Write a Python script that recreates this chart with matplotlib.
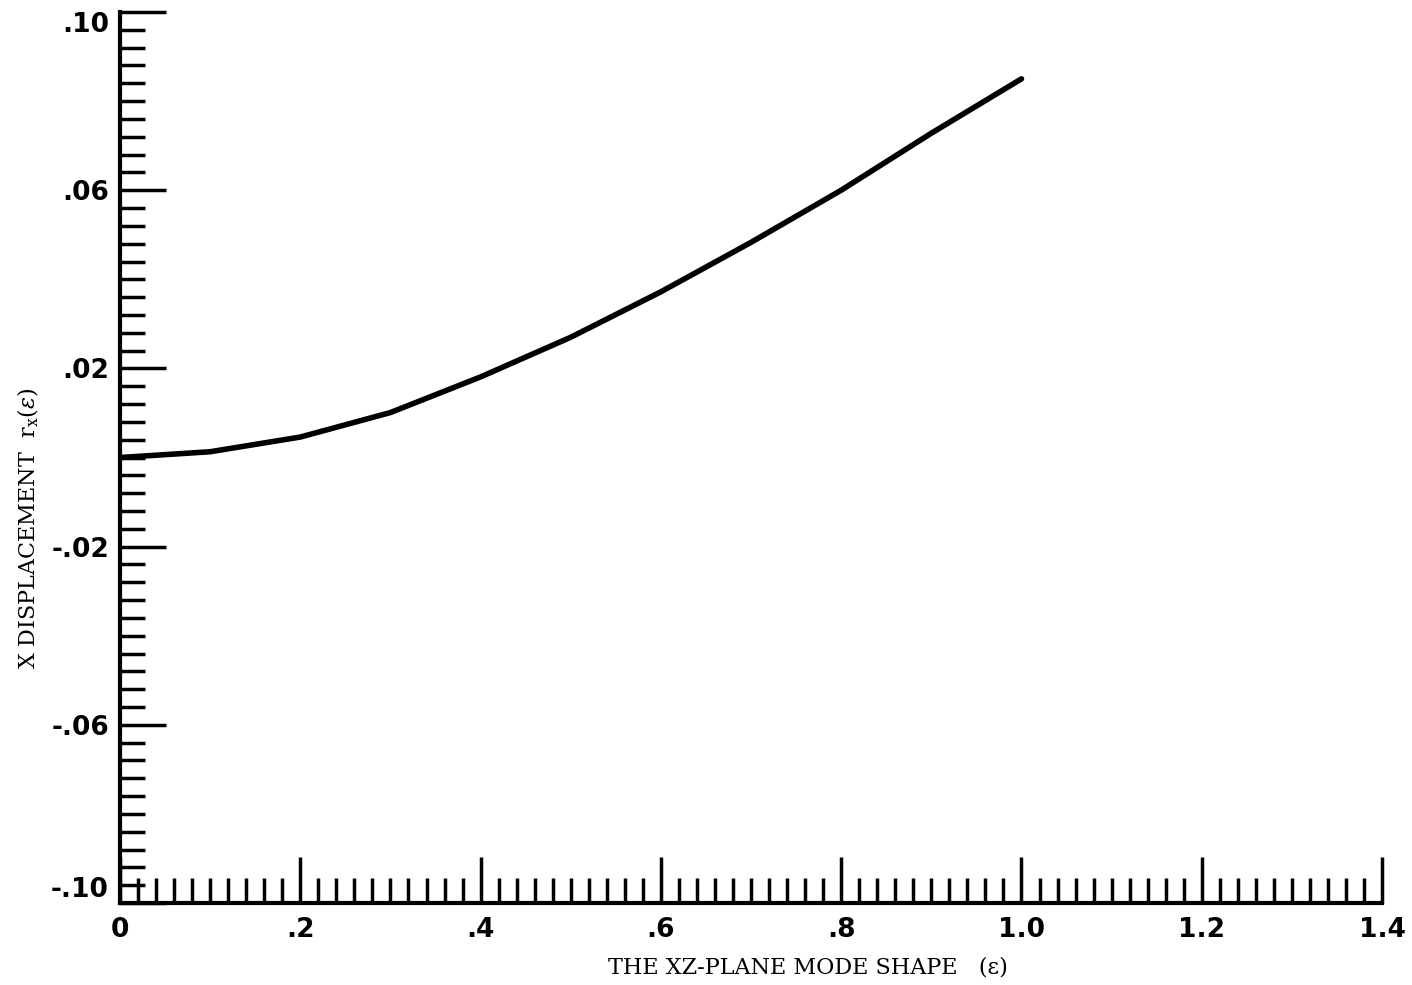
import matplotlib.pyplot as plt
from matplotlib.ticker import MultipleLocator

# mode shape
eps = [0.0, 0.1, 0.2, 0.3, 0.4, 0.5, 0.6, 0.7, 0.8, 0.9, 1.0]
rx = [0.0, 0.0013, 0.0046, 0.0101, 0.0181, 0.0270, 0.0372, 0.0483, 0.0600, 0.0728, 0.0850]

xticks = [0, 0.2, 0.4, 0.6, 0.8, 1.0, 1.2, 1.4]
xlabels = ['0', '.2', '.4', '.6', '.8', '1.0', '1.2', '1.4']
yticks = [0.10, 0.06, 0.02, -0.02, -0.06, -0.10]
ylabels = ['.10', '.06', '.02', '-.02', '-.06', '-.10']

plt.rcParams['mathtext.fontset'] = 'dejavuserif'
tickfont = dict(family='DejaVu Sans', weight='bold', size=19)

fig = plt.figure(figsize=(14.12, 9.85), dpi=100)
ax = fig.add_axes([0.085, 0.0832, 0.8938, 0.9046])

ax.plot(eps, rx, color='black', lw=4, solid_capstyle='round', solid_joinstyle='round')

ax.set_xlim(0, 1.4)
ax.set_ylim(-0.10, 0.10)
ax.spines['top'].set_visible(False)
ax.spines['right'].set_visible(False)
ax.spines['left'].set_linewidth(3)
ax.spines['bottom'].set_linewidth(3)

ax.set_xticks(xticks)
ax.set_xticklabels(xlabels, fontdict=tickfont)
ax.set_yticks(yticks)
ax.set_yticklabels(ylabels, fontdict=tickfont)
ax.xaxis.set_minor_locator(MultipleLocator(0.02))
ax.yaxis.set_minor_locator(MultipleLocator(0.004))
ax.tick_params(which='major', direction='in', length=33, width=2.5, color='black')
ax.tick_params(which='minor', direction='in', length=18, width=2.5, color='black')
ax.tick_params(axis='x', which='major', pad=10)
ax.tick_params(axis='y', which='major', pad=8)

# end labels sit inside the axis range
ylab = ax.get_yticklabels()
ylab[0].set_va('top')
ylab[-1].set_va('bottom')

ax.set_xlabel('THE XZ-PLANE MODE SHAPE   (ε)', family='DejaVu Serif', size=16)
ax.xaxis.set_label_coords(0.545, -0.06)
ax.set_ylabel('X DISPLACEMENT  $\\mathrm{r_x}(\\varepsilon)$', family='DejaVu Serif', size=16)
ax.yaxis.set_label_coords(-0.063, 0.42)

fig.savefig('out.png', dpi=100)
